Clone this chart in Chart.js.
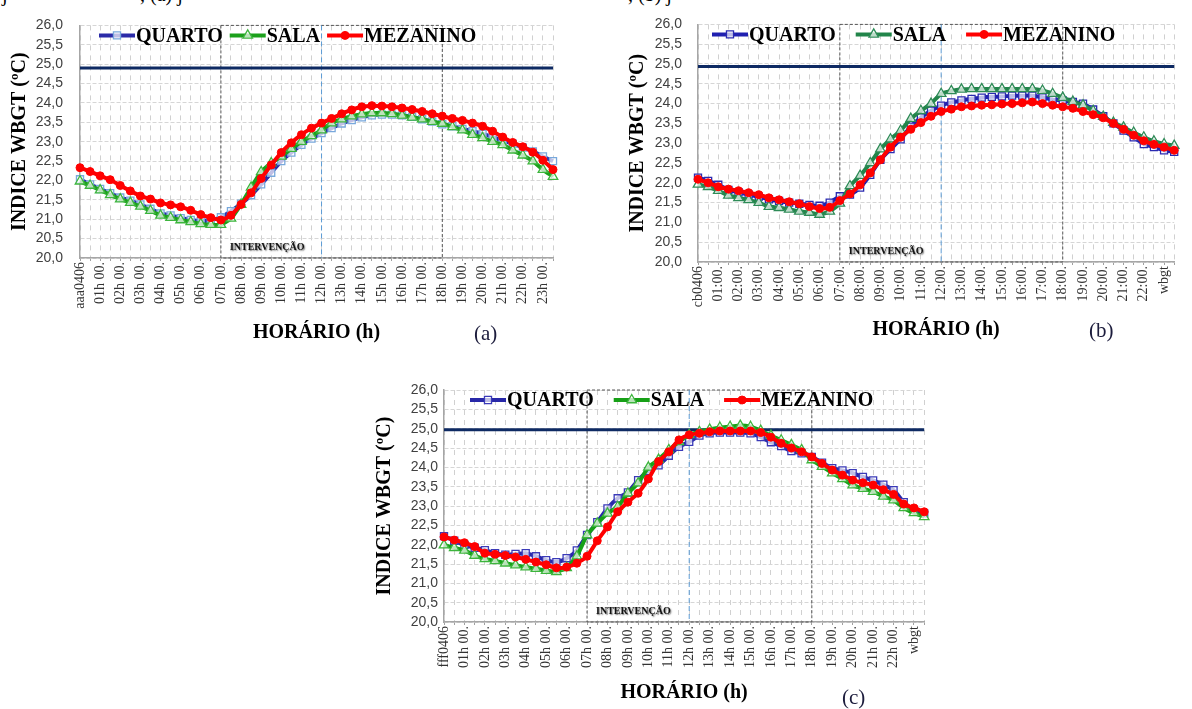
<!DOCTYPE html>
<html>
<head>
<meta charset="utf-8">
<script src="https://cdn.jsdelivr.net/npm/chart.js@4.4.0/dist/chart.umd.min.js"></script>
<style>
body { margin:0; background:#fff; width:1192px; height:709px; overflow:hidden; position:relative; font-family:"Liberation Serif", serif; }
canvas { position:absolute; }
.cap { position:absolute; top:-16px; font-size:20px; line-height:20px; color:#000; white-space:pre; }
.tag { position:absolute; font-size:21px; line-height:24px; color:#1c1c3c; }
</style>
</head>
<body>
<div class="cap" style="left:2px">j</div>
<div class="cap" style="left:140px">, (a) j</div>
<div class="cap" style="left:628px">, (b) j</div>

<canvas id="chartA" width="575" height="349" style="left:0px;top:0px"></canvas>
<canvas id="chartB" width="574" height="346" style="left:618px;top:0px"></canvas>
<canvas id="chartC" width="577" height="339" style="left:365px;top:370px"></canvas>

<div class="tag" style="left:474px;top:321px">(a)</div>
<div class="tag" style="left:1089px;top:318px">(b)</div>
<div class="tag" style="left:842px;top:685px">(c)</div>

<script>
// hourly tick labels (one every two half-hour readings)
const TICKS_A = ['aaa0406','01h 00.','02h 00.','03h 00.','04h 00.','05h 00.','06h 00.','07h 00.','08h 00.','09h 00.','10h 00.','11h 00.',
  '12h 00.','13h 00.','14h 00.','15h 00.','16h 00.','17h 00.','18h 00.','19h 00.','20h 00.','21h 00.','22h 00.','23h 00.'];
const TICKS_B = ['cb0406','01:00.','02:00.','03:00.','04:00.','05:00.','06:00.','07:00.','08:00.','09:00.','10:00.','11:00.',
  '12:00.','13:00.','14:00.','15:00.','16:00.','17:00.','18:00.','19:00.','20:00.','21:00.','22:00.','wbgt'];
const TICKS_C = ['fff0406','01h 00.','02h 00.','03h 00.','04h 00.','05h 00.','06h 00.','07h 00.','08h 00.','09h 00.','10h 00.','11h 00.',
  '12h 00.','13h 00.','14h 00.','15h 00.','16h 00.','17h 00.','18h 00.','19h 00.','20h 00.','21h 00.','22h 00.','wbgt'];

// (a)
const QUARTO_A = [22.03,21.90,21.78,21.67,21.56,21.48,21.38,21.27,21.15,21.10,21.03,20.98,20.95,20.98,21.05,21.21,
  21.40,21.62,21.90,22.20,22.50,22.72,22.92,23.08,23.22,23.35,23.47,23.56,23.63,23.68,23.70,23.70,
  23.68,23.64,23.58,23.52,23.45,23.40,23.33,23.27,23.20,23.12,23.03,22.95,22.85,22.75,22.62,22.50];
const SALA_A = [21.98,21.87,21.75,21.63,21.52,21.43,21.33,21.22,21.10,21.04,20.98,20.93,20.88,20.86,20.86,21.02,
  21.38,21.82,22.22,22.45,22.62,22.82,23.00,23.15,23.30,23.48,23.58,23.66,23.71,23.74,23.74,23.72,
  23.68,23.63,23.58,23.52,23.47,23.38,23.30,23.18,23.10,23.00,22.92,22.78,22.65,22.50,22.28,22.10];
const MEZANINO_A = [22.33,22.23,22.12,22.02,21.87,21.73,21.60,21.52,21.42,21.37,21.32,21.23,21.12,21.04,20.98,21.10,
  21.38,21.68,22.05,22.40,22.72,22.97,23.18,23.35,23.48,23.60,23.72,23.82,23.90,23.93,23.92,23.90,
  23.87,23.83,23.78,23.72,23.66,23.60,23.55,23.48,23.40,23.27,23.12,22.98,22.87,22.73,22.52,22.28];
const LIMIT_A = 24.9;

// (b)
const QUARTO_B = [22.13,22.05,21.95,21.82,21.76,21.70,21.65,21.58,21.54,21.50,21.47,21.44,21.42,21.50,21.66,21.70,
  21.88,22.20,22.58,22.85,23.10,23.42,23.65,23.82,23.95,24.03,24.08,24.12,24.15,24.17,24.18,24.20,
  24.20,24.20,24.16,24.10,24.08,24.04,24.00,23.85,23.68,23.50,23.32,23.15,22.98,22.90,22.82,22.78];
const SALA_B = [21.96,21.90,21.80,21.68,21.62,21.57,21.50,21.40,21.37,21.33,21.28,21.25,21.20,21.28,21.48,21.92,
  22.18,22.50,22.85,23.10,23.32,23.62,23.82,24.00,24.25,24.32,24.36,24.37,24.37,24.37,24.37,24.37,
  24.37,24.37,24.33,24.25,24.15,24.05,23.96,23.82,23.67,23.52,23.40,23.27,23.15,23.05,22.98,22.94];
const MEZANINO_B = [22.09,22.00,21.90,21.84,21.80,21.75,21.70,21.62,21.57,21.52,21.47,21.40,21.35,21.38,21.55,21.72,
  21.95,22.25,22.58,22.90,23.15,23.35,23.52,23.68,23.80,23.86,23.92,23.94,23.96,23.97,23.99,24.00,
  24.02,24.04,24.00,23.96,23.92,23.88,23.80,23.72,23.64,23.50,23.35,23.20,23.06,22.97,22.90,22.82];
const LIMIT_B = 24.94;

// (c)
const QUARTO_C = [22.22,22.10,21.99,21.92,21.86,21.78,21.74,21.76,21.78,21.70,21.60,21.55,21.65,21.85,22.25,22.58,
  22.94,23.20,23.35,23.67,23.90,24.05,24.30,24.53,24.66,24.82,24.88,24.90,24.90,24.90,24.88,24.78,
  24.65,24.55,24.42,24.36,24.27,24.12,23.98,23.92,23.85,23.75,23.66,23.55,23.41,23.10,22.90,22.81];
const SALA_C = [21.99,21.92,21.85,21.72,21.63,21.58,21.52,21.47,21.42,21.38,21.33,21.30,21.40,21.70,22.25,22.55,
  22.81,22.98,23.33,23.59,24.00,24.20,24.45,24.66,24.84,24.92,24.98,25.03,25.05,25.08,25.05,24.95,
  24.82,24.70,24.58,24.45,24.19,24.02,23.85,23.70,23.54,23.45,23.37,23.25,23.15,22.95,22.82,22.72];
const MEZANINO_C = [22.20,22.12,22.05,21.95,21.78,21.75,21.72,21.68,21.62,21.55,21.48,21.40,21.42,21.52,21.70,22.10,
  22.46,22.85,23.10,23.33,23.70,24.15,24.40,24.71,24.84,24.88,24.92,24.94,24.94,24.94,24.94,24.90,
  24.78,24.62,24.50,24.40,24.27,24.10,23.93,23.80,23.67,23.60,23.54,23.42,23.30,23.05,22.95,22.85];
const LIMIT_C = 24.97;

const SERIES_NAMES = ['QUARTO', 'SALA', 'MEZANINO'];

function marker(ctx, style, x, y, r, fill, stroke, bw) {
  ctx.beginPath();
  if (style === 'rect') {
    const s = Math.SQRT1_2 * r;
    ctx.rect(x - s, y - s, 2 * s, 2 * s);
  } else if (style === 'triangle') {
    ctx.moveTo(x, y - r);
    ctx.lineTo(x + r * 0.866, y + r * 0.5);
    ctx.lineTo(x - r * 0.866, y + r * 0.5);
    ctx.closePath();
  } else {
    ctx.arc(x, y, r, 0, Math.PI * 2);
  }
  ctx.fillStyle = fill;
  ctx.fill();
  ctx.lineWidth = bw;
  ctx.strokeStyle = stroke;
  ctx.stroke();
}

// intervention box, midday line and the legend inside the plot
const decor = {
  id: 'decor',
  beforeDatasetsDraw(chart, args, o) {
    const ctx = chart.ctx, a = chart.chartArea, x = chart.scales.x;
    const x0 = x.getPixelForValue(o.from), x1 = x.getPixelForValue(o.to), xm = x.getPixelForValue(o.mid);
    ctx.save();
    ctx.lineWidth = 1;
    ctx.setLineDash([3, 2]);
    ctx.strokeStyle = '#555';
    ctx.strokeRect(x0, a.top, x1 - x0, a.bottom - a.top);
    ctx.setLineDash([5, 3]);
    ctx.strokeStyle = '#5B9BD5';
    ctx.beginPath();
    ctx.moveTo(xm, a.top);
    ctx.lineTo(xm, a.bottom);
    ctx.stroke();
    ctx.setLineDash([]);
    ctx.font = 'bold 10px "Liberation Serif"';
    ctx.fillStyle = '#111';
    ctx.shadowColor = 'rgba(0,0,0,0.55)';
    ctx.shadowBlur = 1.5;
    ctx.shadowOffsetX = 1;
    ctx.shadowOffsetY = 1;
    ctx.textBaseline = 'middle';
    ctx.fillText('INTERVENÇÃO', x0 + 9, a.bottom - 11);
    ctx.restore();
  },
  afterDatasetsDraw(chart, args, o) {
    const ctx = chart.ctx, a = chart.chartArea;
    let px = a.left + o.legendX;
    const py = a.top + 10;
    ctx.save();
    ctx.font = 'bold 20px "Liberation Serif"';
    ctx.textBaseline = 'middle';
    chart.data.datasets.slice(0, 3).forEach(ds => {
      ctx.strokeStyle = ds.borderColor;
      ctx.lineWidth = 4;
      ctx.beginPath();
      ctx.moveTo(px, py);
      ctx.lineTo(px + 36, py);
      ctx.stroke();
      marker(ctx, ds.pointStyle, px + 18, py, ds.pointRadius, ds.pointBackgroundColor, ds.pointBorderColor, ds.pointBorderWidth);
      px += 37;
      ctx.fillStyle = '#000';
      ctx.fillText(ds.label, px, py + 1);
      px += ctx.measureText(ds.label).width + o.legendGap;
    });
    ctx.restore();
  }
};

function buildChart(id, ticks, quarto, sala, mezanino, limit, look) {
  const cats = ticks.flatMap(t => [t, t + ' 30']);
  const values = [quarto, sala, mezanino];
  const styles = [
    {pointStyle: 'rect', pointRadius: 5, pointBackgroundColor: 'rgba(255,255,255,0.7)', pointBorderColor: look.qm, pointBorderWidth: 1.3, borderColor: look.q, order: 3},
    {pointStyle: 'triangle', pointRadius: 5.5, pointBackgroundColor: 'rgba(255,255,255,0.7)', pointBorderColor: look.sm, pointBorderWidth: 1.3, borderColor: look.s, order: 2},
    {pointStyle: 'circle', pointRadius: 4, pointBackgroundColor: '#FF0000', pointBorderColor: '#FF0000', pointBorderWidth: 1, borderColor: '#FF0000', order: 1}
  ];
  const datasets = SERIES_NAMES.map((name, k) => Object.assign({label: name, data: values[k], borderWidth: 4}, styles[k]));
  datasets.push({
    label: 'limite',
    data: [{x: cats[0], y: limit}, {x: cats[cats.length - 1], y: limit}],
    borderColor: '#0E2A63', borderWidth: 3, pointRadius: 0, order: 4
  });

  new Chart(document.getElementById(id), {
    type: 'line',
    data: {labels: cats, datasets: datasets},
    plugins: [decor],
    options: {
      responsive: false,
      animation: false,
      layout: {padding: {top: look.padTop, right: look.padRight, left: 0, bottom: 0}},
      elements: {line: {tension: 0.2}},
      plugins: {
        legend: {display: false},
        tooltip: {enabled: false},
        decor: {
          from: cats.indexOf(look.box[0]), to: cats.indexOf(look.box[1]), mid: cats.indexOf(look.box[2]),
          legendX: look.legendX, legendGap: look.legendGap
        }
      },
      scales: {
        x: {
          grid: {color: '#d0d0d0', lineWidth: 1, tickLength: 3, tickColor: '#a0a0a0', borderDash: [5, 5]},
          border: {display: true, color: '#a6a6a6', width: 1.5, dash: [5, 5]},
          ticks: {
            autoSkip: false, maxRotation: 90, minRotation: 90, padding: 1, color: '#333',
            font: {family: 'Liberation Serif', size: 14},
            callback: (v, i) => i % 2 === 0 ? ticks[i / 2] : ''
          },
          title: {display: true, text: 'HORÁRIO (h)', color: '#000', font: {family: 'Liberation Serif', size: 20, weight: 'bold'}},
          afterFit: s => { s.height = look.xH; }
        },
        y: {
          min: 20, max: 26,
          grid: {color: '#d6d6d6', lineWidth: 1, drawTicks: false, borderDash: [4, 2]},
          border: {display: true, color: '#a6a6a6', width: 1.5, dash: [4, 2]},
          ticks: {
            stepSize: 0.5, autoSkip: false, padding: look.yPad, color: '#404040',
            font: {family: 'Liberation Sans', size: 14},
            callback: v => v.toFixed(1).replace('.', ',')
          },
          title: {display: true, text: 'INDICE WBGT (ºC)', color: '#000', padding: {top: 8, bottom: 4},
            font: {family: 'Liberation Serif', size: 20, weight: 'bold'}},
          afterFit: s => { s.width = look.yW; }
        }
      }
    }
  });
}

buildChart('chartA', TICKS_A, QUARTO_A, SALA_A, MEZANINO_A, LIMIT_A, {
  q: '#2B2BA8', qm: '#78A8DC', s: '#1BA01B', sm: '#3DB53D',
  padTop: 16, padRight: 22, yW: 80, xH: 91, yPad: 17,
  box: ['07h 00.', '18h 00.', '12h 00.'], legendX: 19, legendGap: 7
});
buildChart('chartB', TICKS_B, QUARTO_B, SALA_B, MEZANINO_B, LIMIT_B, {
  q: '#2020B0', qm: '#2A2AB0', s: '#22854A', sm: '#2E8B57',
  padTop: 17, padRight: 7, yW: 80, xH: 84, yPad: 16,
  box: ['07:00.', '18:00.', '12:00.'], legendX: 14, legendGap: 20
});
buildChart('chartC', TICKS_C, QUARTO_C, SALA_C, MEZANINO_C, LIMIT_C, {
  q: '#2828A8', qm: '#3A3AB8', s: '#17A017', sm: '#3DB53D',
  padTop: 20, padRight: 9, yW: 79, xH: 87, yPad: 6,
  box: ['07h 00.', '18h 00.', '12h 00.'], legendX: 26, legendGap: 20
});
</script>
</body>
</html>
